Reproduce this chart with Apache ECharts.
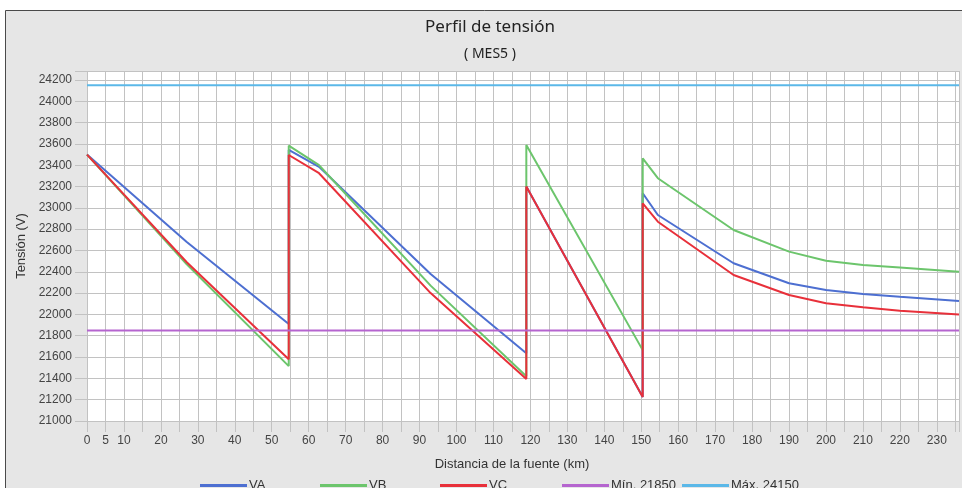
<!DOCTYPE html>
<html>
<head>
<meta charset="utf-8">
<script src="https://cdn.jsdelivr.net/npm/echarts@6/dist/echarts.min.js"></script>
<style>
html,body{margin:0;padding:0;background:#fff;}
#chart{width:962px;height:488px;}
</style>
</head>
<body>
<div id="chart"></div>
<script>
// Distance from source (km); repeated values mark the vertical voltage jumps
const distanceKm = [0, 27, 54.6, 54.6, 62.8, 93, 118.9, 118.9, 150.4, 150.4, 154.5, 175, 190, 200, 210, 220, 236];
const vaValues = [23500, 22680, 21910, 23543, 23385, 22380, 21635, 23200, 21225, 23137, 22933, 22480, 22292, 22229, 22192, 22165, 22125];
const vbValues = [23500, 22470, 21515, 23583, 23400, 22270, 21420, 23590, 21665, 23465, 23278, 22792, 22589, 22504, 22464, 22440, 22400];
const vcValues = [23500, 22490, 21580, 23496, 23325, 22200, 21395, 23200, 21225, 23043, 22870, 22370, 22182, 22105, 22067, 22035, 22000];
const limitKm = [0, 236];
const minLimit = 21850;
const maxLimit = 24150;
const seriesNames = ['VA', 'VB', 'VC', 'Mín. 21850', 'Máx. 24150'];
const titleText = 'Perfil de tensión';
const subtitleText = '( MES5 )';
const xAxisTitle = 'Distancia de la fuente (km)';
const yAxisTitle = 'Tensión (V)';

const colors = ['#4d6fd1', '#6cc56c', '#e8303a', '#b565cf', '#5bb8e8'];
const pair = (xs, ys) => xs.map((x, i) => [x, ys[i]]);

const chart = echarts.init(document.getElementById('chart'), null, {renderer: 'canvas'});
const gridColor = '#c2c2c2';
const labelFont = 'Liberation Sans';
const legendLefts = [200, 320, 440, 562, 682];

chart.setOption({
  backgroundColor: '#ffffff',
  animation: false,
  graphic: [
    {type: 'rect', z: -10, shape: {x: 5.5, y: 10.5, width: 1000, height: 600},
     style: {fill: '#e6e6e6', stroke: '#4a4a4a', lineWidth: 1}},
    {type: 'text', x: 490, y: 27, style: {text: titleText, fill: '#222', font: '17px "Noto Sans"', textAlign: 'center', textVerticalAlign: 'middle'}},
    {type: 'text', x: 490, y: 54, style: {text: subtitleText, fill: '#222', font: '14px "Noto Sans"', textAlign: 'center', textVerticalAlign: 'middle'}},
    {type: 'text', x: 512, y: 464, style: {text: xAxisTitle, fill: '#333', font: '13px "Liberation Sans"', textAlign: 'center', textVerticalAlign: 'middle'}}
  ],
  grid: {left: 87, right: 0, top: 71, bottom: 67, show: true, backgroundColor: '#ffffff', borderWidth: 0},
  legend: seriesNames.map((n, i) => ({
    data: [n], left: legendLefts[i], top: 479, padding: 0, icon: 'rect', itemWidth: 47, itemHeight: 3, itemGap: 2,
    itemStyle: {color: colors[i], borderWidth: 0},
    inactiveColor: colors[i],
    textStyle: {color: '#333', fontSize: 13, fontFamily: labelFont, padding: [0, 0, 0, -3]}
  })),
  xAxis: {
    type: 'value', min: 0, max: 236, interval: 5,
    axisLine: {show: false},
    axisTick: {show: true, length: 11, lineStyle: {color: gridColor}},
    splitLine: {show: true, lineStyle: {color: gridColor, width: 1}},
    axisLabel: {
      margin: 14, color: '#444', fontSize: 12, fontFamily: labelFont,
      formatter: v => (v === 5 || (v % 10 === 0 && v <= 230)) ? String(v) : ''
    }
  },
  yAxis: {
    type: 'value', min: 21000, max: 24284, interval: 200,
    name: yAxisTitle, nameLocation: 'middle', nameGap: 59, nameRotate: 90,
    nameTextStyle: {color: '#333', fontSize: 13, fontFamily: labelFont},
    axisLine: {show: false},
    axisTick: {show: true, length: 12, lineStyle: {color: gridColor}},
    splitLine: {show: true, lineStyle: {color: gridColor, width: 1}},
    axisLabel: {
      margin: 15, color: '#444', fontSize: 12, fontFamily: labelFont,
      formatter: v => (v % 200 === 0) ? String(v) : ''
    }
  },
  series: [
    {name: seriesNames[0], type: 'line', data: pair(distanceKm, vaValues), showSymbol: false, lineStyle: {width: 2, color: colors[0]}, itemStyle: {color: colors[0]}},
    {name: seriesNames[1], type: 'line', data: pair(distanceKm, vbValues), showSymbol: false, lineStyle: {width: 2, color: colors[1]}, itemStyle: {color: colors[1]}},
    {name: seriesNames[2], type: 'line', data: pair(distanceKm, vcValues), showSymbol: false, lineStyle: {width: 2, color: colors[2]}, itemStyle: {color: colors[2]}},
    {name: seriesNames[3], type: 'line', data: pair(limitKm, [minLimit, minLimit]), showSymbol: false, lineStyle: {width: 2, color: colors[3]}, itemStyle: {color: colors[3]}},
    {name: seriesNames[4], type: 'line', data: pair(limitKm, [maxLimit, maxLimit]), showSymbol: false, lineStyle: {width: 2, color: colors[4]}, itemStyle: {color: colors[4]}}
  ]
});
</script>
</body>
</html>
